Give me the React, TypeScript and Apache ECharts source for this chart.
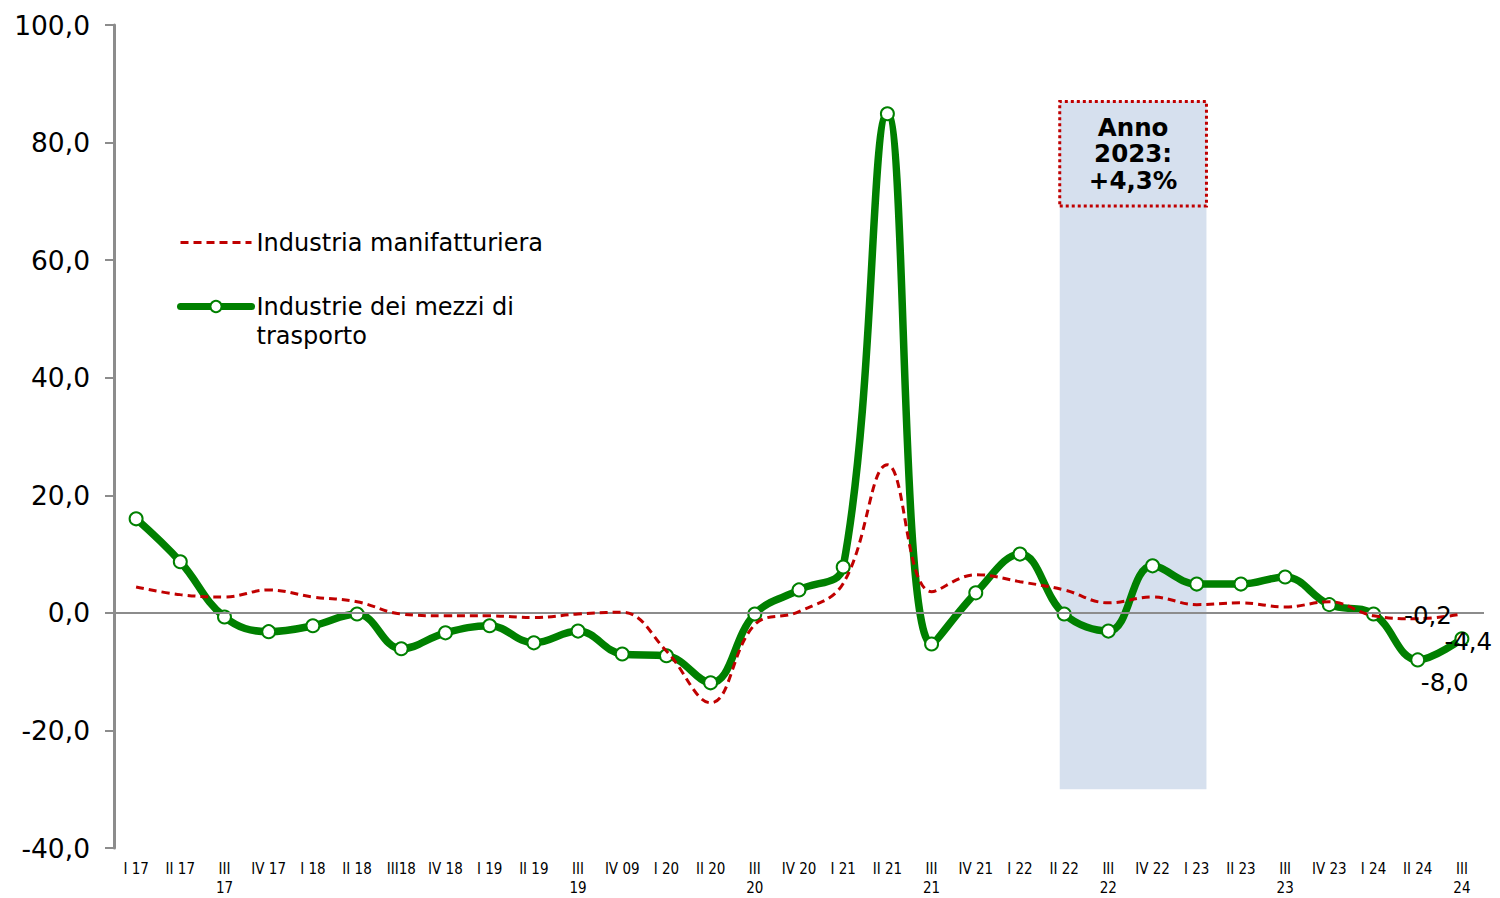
import React, { useEffect, useRef } from "react";
import * as echarts from "echarts";

const categories = [
  "I 17", "II 17", "III 17", "IV 17", "I 18", "II 18", "III18", "IV 18",
  "I 19", "II 19", "III 19", "IV 09", "I 20", "II 20", "III 20", "IV 20",
  "I 21", "II 21", "III 21", "IV 21", "I 22", "II 22", "III 22", "IV 22",
  "I 23", "II 23", "III 23", "IV 23", "I 24", "II 24", "III 24",
];

const manifatturiera = [
  4.4, 3.1, 2.7, 3.9, 2.7, 1.9, -0.2, -0.5, -0.5, -0.8, -0.2, 0.1, -6.5, -15.3,
  -2.0, 0.2, 5.0, 25.2, 3.6, 6.5, 5.3, 3.9, 1.7, 2.7, 1.4, 1.7, 1.0, 1.9, -0.5,
  -1.0, -0.2,
];

const mezziTrasporto = [
  16.0, 8.7, -0.7, -3.2, -2.2, -0.2, -6.1, -3.4, -2.2, -5.1, -3.1, -7.0, -7.3,
  -11.9, -0.2, 3.9, 7.8, 84.9, -5.3, 3.4, 10.0, -0.2, -3.1, 8.0, 4.9, 4.9, 6.1,
  1.4, -0.2, -8.0, -4.4,
];

const yTicks = { min: -40, max: 100, interval: 20 };

// highlighted period (Anno 2023), in category-index units on a hidden value axis
const periodStart = 20.9;
const periodEnd = 24.22;
const shadeBottom = -30;
const shadeTop = 87;
const boxBottom = 69.2;
const boxText = "Anno\n2023:\n+4,3%";

const fmt = (v: number) => v.toFixed(1).replace(".", ",");

const labelFont = {
  fontFamily: "DejaVu Sans",
  fontSize: 24.5,
  color: "#000",
};

export default function App() {
  const ref = useRef<HTMLDivElement>(null);

  useEffect(() => {
    if (!ref.current) return;
    const chart = echarts.init(ref.current, null, { renderer: "svg" });
    const lastIdx = categories.length - 1;

    const option: any = {
      animation: false,
      backgroundColor: "#ffffff",
      grid: {
        left: 114,
        right: 16,
        top: 25,
        bottom: 50,
        containLabel: false,
        outerBoundsMode: "none",
      },
      legend: {
        orient: "vertical",
        left: 177,
        top: 228,
        padding: 0,
        itemWidth: 71,
        itemHeight: 14,
        itemGap: 6,
        textStyle: {
          fontFamily: "DejaVu Sans",
          fontSize: 24,
          color: "#000",
          lineHeight: 29,
        },
        data: [
          {
            name: "Industria manifatturiera",
            itemStyle: { opacity: 0 },
            lineStyle: { width: 3, type: [8, 5], color: "#c00000" },
          },
          {
            name: "Industrie dei mezzi di trasporto",
            lineStyle: { width: 7, color: "#008000" },
          },
        ],
        formatter: (n: string) =>
          n === "Industrie dei mezzi di trasporto"
            ? "\nIndustrie dei mezzi di\ntrasporto"
            : n,
      },
      xAxis: [
        {
          type: "category",
          data: categories,
          boundaryGap: true,
          axisLine: { show: false },
          axisTick: { show: false },
          axisLabel: {
            interval: 0,
            margin: 11,
            fontFamily: "DejaVu Sans Condensed",
            fontSize: 15,
            color: "#000",
            lineHeight: 19,
            formatter: (v: string) => v.replace(/^III /, "III\n"),
          },
          splitLine: { show: false },
        },
        {
          type: "value",
          min: -0.5,
          max: categories.length - 0.5,
          show: false,
        },
      ],
      yAxis: {
        type: "value",
        min: yTicks.min,
        max: yTicks.max,
        interval: yTicks.interval,
        axisLine: {
          show: true,
          onZero: false,
          lineStyle: { color: "#8c8c8c", width: 3 },
        },
        axisTick: {
          show: true,
          length: 9,
          lineStyle: { color: "#8c8c8c", width: 2 },
        },
        splitLine: { show: false },
        axisLabel: {
          margin: 24,
          fontFamily: "DejaVu Sans",
          fontSize: 26.5,
          color: "#000",
          formatter: (v: number) => fmt(v),
        },
      },
      series: [
        {
          name: "period",
          type: "line",
          xAxisIndex: 1,
          data: [],
          silent: true,
          z: 0,
          markArea: {
            silent: true,
            data: [
              [
                {
                  coord: [periodStart, shadeBottom],
                  itemStyle: { color: "#d6e0ee" },
                },
                { coord: [periodEnd, shadeTop] },
              ],
              [
                {
                  coord: [periodStart, boxBottom],
                  itemStyle: {
                    color: "#d6e0ee",
                    borderColor: "#c00000",
                    borderWidth: 3,
                    borderType: [3, 3],
                  },
                  label: {
                    show: true,
                    position: "inside",
                    formatter: boxText,
                    fontFamily: "DejaVu Sans",
                    fontWeight: "bold",
                    fontSize: 24.5,
                    lineHeight: 26.5,
                    color: "#000",
                    align: "center",
                  },
                },
                { coord: [periodEnd, shadeTop] },
              ],
            ],
          },
          markLine: {
            silent: true,
            symbol: ["none", "none"],
            label: { show: false },
            lineStyle: { color: "#8c8c8c", width: 2, type: "solid" },
            data: [{ yAxis: 0 }],
          },
        },
        {
          name: "Industria manifatturiera",
          type: "line",
          data: manifatturiera.map((v, i) =>
            i === lastIdx
              ? {
                  value: v,
                  label: {
                    show: true,
                    position: "left",
                    distance: 10,
                    offset: [0, 1],
                    formatter: fmt(v),
                    ...labelFont,
                  },
                }
              : v
          ),
          smooth: 0.4,
          symbol: "circle",
          symbolSize: 0,
          showSymbol: true,
          z: 5,
          lineStyle: { color: "#c00000", width: 3, type: [8, 5] },
          itemStyle: { color: "#c00000" },
        },
        {
          name: "Industrie dei mezzi di trasporto",
          type: "line",
          data: mezziTrasporto.map((v, i) => {
            if (i === lastIdx - 1)
              return {
                value: v,
                label: {
                  show: true,
                  position: "bottom",
                  offset: [27, -2],
                  formatter: fmt(v),
                  ...labelFont,
                },
              };
            if (i === lastIdx)
              return {
                value: v,
                label: {
                  show: true,
                  position: "right",
                  offset: [-30, 3],
                  formatter: fmt(v),
                  ...labelFont,
                },
              };
            return v;
          }),
          smooth: 0.4,
          symbol: "circle",
          symbolSize: 13,
          z: 4,
          lineStyle: { color: "#008000", width: 7.5, cap: "round" },
          itemStyle: { color: "#ffffff", borderColor: "#008000", borderWidth: 2 },
        },
      ],
    };

    chart.setOption(option);
    return () => chart.dispose();
  }, []);

  return (
    <div
      ref={ref}
      style={{ position: "fixed", left: 0, top: 0, width: 1500, height: 898 }}
    />
  );
}
